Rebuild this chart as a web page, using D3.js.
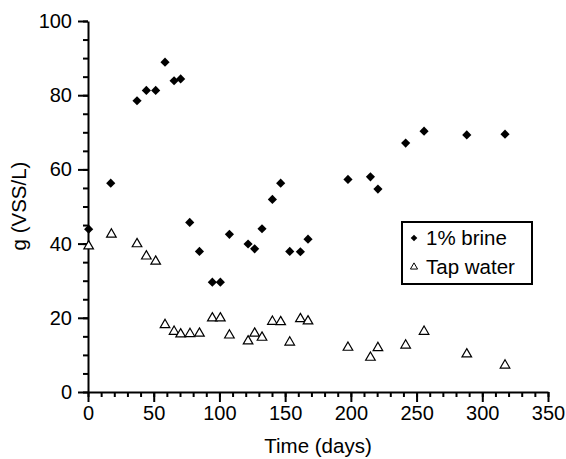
<!DOCTYPE html>
<html>
<head>
<meta charset="utf-8">
<title>VSS over time</title>
<script src="https://d3js.org/d3.v7.min.js"></script>
<style>
  body { margin: 0; background: #fff; }
  text { font-family: "Liberation Sans", Arial, sans-serif; fill: #000; }
</style>
</head>
<body>
<script>
// 1% brine (diamonds)
var brineDays = [0.5, 17.3, 37.3, 44.4, 51.5, 58.6, 65.5, 70.5, 77.4, 84.8, 94.6, 100.7, 107.6,
                 121.8, 126.8, 132.4, 140.3, 146.6, 153.5, 161.6, 167.4, 197.8, 214.9, 220.6,
                 241.7, 255.7, 288.2, 317.3];
var brineVss = [43.9, 56.3, 78.5, 81.3, 81.3, 88.9, 83.9, 84.4, 45.7, 37.9, 29.6, 29.6, 42.5,
                39.9, 38.6, 44.0, 51.9, 56.3, 37.9, 37.8, 41.2, 57.3, 58.0, 54.7,
                67.1, 70.3, 69.3, 69.5];

// tap water (open triangles)
var tapDays = [0.5, 17.8, 37.3, 44.4, 51.5, 58.6, 65.5, 70.5, 77.6, 84.8, 94.6, 100.7, 107.6,
               121.8, 126.8, 132.4, 140.3, 146.6, 153.5, 161.6, 167.4, 197.8, 214.9, 220.6,
               241.7, 255.7, 288.2, 317.3];
var tapVss = [39.3, 42.5, 39.9, 36.6, 35.2, 18.1, 16.3, 15.6, 15.7, 15.8, 19.9, 19.9, 15.3,
              13.7, 15.8, 14.7, 19.0, 18.9, 13.4, 19.7, 19.1, 12.0, 9.3, 11.9,
              12.6, 16.3, 10.2, 7.2];

var xTicks = [0, 50, 100, 150, 200, 250, 300, 350];
var yTicks = [0, 20, 40, 60, 80, 100];
var seriesNames = ["1% brine", "Tap water"];

var W = 566, H = 459;
var margin = {top: 21, right: 18, bottom: 67, left: 88};

var svg = d3.select("body").append("svg")
    .attr("width", W)
    .attr("height", H);

var x = d3.scaleLinear().domain([0, 350]).range([margin.left, 548]);
var y = d3.scaleLinear().domain([0, 100]).range([392, margin.top]);

// minor ticks first, then the major axis on top
svg.append("g")
    .attr("transform", "translate(0,392)")
    .call(d3.axisBottom(x).tickValues(d3.range(0, 351, 10)).tickSize(5).tickFormat(""))
    .call(function(g) { g.select(".domain").remove(); });
svg.append("g")
    .attr("transform", "translate(" + margin.left + ",0)")
    .call(d3.axisLeft(y).tickValues(d3.range(0, 101, 5)).tickSize(5).tickFormat(""))
    .call(function(g) { g.select(".domain").remove(); });

var xAxis = svg.append("g")
    .attr("transform", "translate(0,392)")
    .call(d3.axisBottom(x).tickValues(xTicks).tickSize(10).tickSizeOuter(0).tickPadding(4));
var yAxis = svg.append("g")
    .attr("transform", "translate(" + margin.left + ",0)")
    .call(d3.axisLeft(y).tickValues(yTicks).tickSize(10).tickSizeOuter(0).tickPadding(6));

svg.selectAll(".tick line, .domain")
    .attr("stroke", "#000")
    .attr("stroke-width", 2);
svg.selectAll(".tick text")
    .attr("font-size", 20)
    .attr("font-family", "Liberation Sans, Arial, sans-serif")
    .attr("fill", "#000");

svg.append("text")
    .attr("x", 318)
    .attr("y", 453)
    .attr("text-anchor", "middle")
    .attr("font-size", 20.5)
    .text("Time (days)");

svg.append("text")
    .attr("transform", "translate(26,206) rotate(-90)")
    .attr("text-anchor", "middle")
    .attr("font-size", 20.5)
    .text("g (VSS/L)");

var diamond = d3.symbol().type(d3.symbolSquare).size(42);
var triangle = d3.symbol().type(d3.symbolTriangle).size(40);

var brine = brineDays.map(function(d, i) { return {d: d, v: brineVss[i]}; });
var tap = tapDays.map(function(d, i) { return {d: d, v: tapVss[i]}; });

svg.append("g").selectAll("path")
    .data(tap)
    .join("path")
    .attr("d", triangle)
    .attr("transform", function(p) { return "translate(" + x(p.d) + "," + y(p.v) + ")"; })
    .attr("fill", "#fff")
    .attr("stroke", "#000")
    .attr("stroke-width", 1.2);

svg.append("g").selectAll("path")
    .data(brine)
    .join("path")
    .attr("d", diamond)
    .attr("transform", function(p) { return "translate(" + x(p.d) + "," + y(p.v) + ") rotate(45)"; })
    .attr("fill", "#000");

// legend
var lg = svg.append("g").attr("transform", "translate(402,222)");
lg.append("rect")
    .attr("width", 130)
    .attr("height", 62)
    .attr("fill", "#fff")
    .attr("stroke", "#000")
    .attr("stroke-width", 2);
lg.append("path")
    .attr("d", d3.symbol().type(d3.symbolSquare).size(22))
    .attr("transform", "translate(12,16) rotate(45)")
    .attr("fill", "#000");
lg.append("path")
    .attr("d", d3.symbol().type(d3.symbolTriangle).size(22))
    .attr("transform", "translate(12,45)")
    .attr("fill", "#fff")
    .attr("stroke", "#000")
    .attr("stroke-width", 1);
lg.selectAll("text.lab")
    .data(seriesNames)
    .join("text")
    .attr("class", "lab")
    .attr("x", 24)
    .attr("y", function(d, i) { return 23 + i * 29; })
    .attr("font-size", 20.5)
    .text(function(d) { return d; });
</script>
</body>
</html>
